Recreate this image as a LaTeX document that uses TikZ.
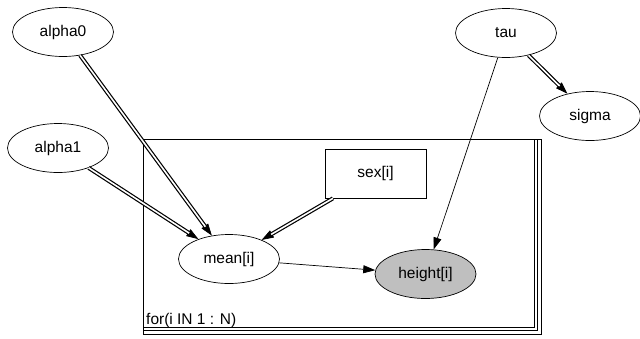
\documentclass[tikz,border=0pt]{standalone}
\usepackage{fontspec}
\setmainfont{Liberation Sans}
\usetikzlibrary{shapes.geometric,arrows.meta}
\begin{document}
\begin{tikzpicture}[x=1pt,y=-1pt,
  every node/.style={font=\fontsize{15.5}{18}\selectfont},
  var/.style={ellipse,draw,line width=0.7pt,minimum width=101pt,minimum height=49pt,inner sep=0pt},
  obs/.style={var,fill=black!25},
  datum/.style={rectangle,draw,line width=0.7pt,minimum width=101pt,minimum height=49pt,inner sep=0pt},
  tip/.style={-{Triangle[length=12pt,width=8pt]}},
  stoch/.style={tip,line width=0.7pt},
  dbl/.style={double,double distance=1.6pt,line width=1.2pt,shorten >=11pt},
  plate/.style={draw,line width=0.7pt}]
\useasboundingbox (0,0) rectangle (640,338);

% plate with stacked edges
\draw[plate] (143,139) rectangle (541,334);
\draw[plate] (143,139) rectangle (537.5,330.5);
\draw[plate] (143,139) rectangle (534,327);
\node[anchor=base west,inner sep=0pt] (plabel) at (146,324) {for(i IN 1 : N)};

% nodes
\node[var] (alpha0) at (63,32) {alpha0};
\node[var] (alpha1) at (58,148) {alpha1};
\node[var] (tau) at (506,33) {tau};
\node[var] (sigma) at (590,116) {sigma};
\node[datum,fill=white] (sex) at (375.5,173.5) {sex[i]};
\node[var] (mean) at (229,259) {mean[i]};
\node[obs] (height) at (425.5,274) {height[i]};

% logical links: solid head, double shaft laid over it
\foreach \a/\b in {alpha0/mean, alpha1/mean, sex/mean, tau/sigma}{
  \draw[stoch] (\a) -- (\b);
  \draw[dbl] (\a) -- (\b);
}
% stochastic links
\draw[stoch] (tau) -- (height);
\draw[stoch] (mean) -- (height);
\end{tikzpicture}
\end{document}
